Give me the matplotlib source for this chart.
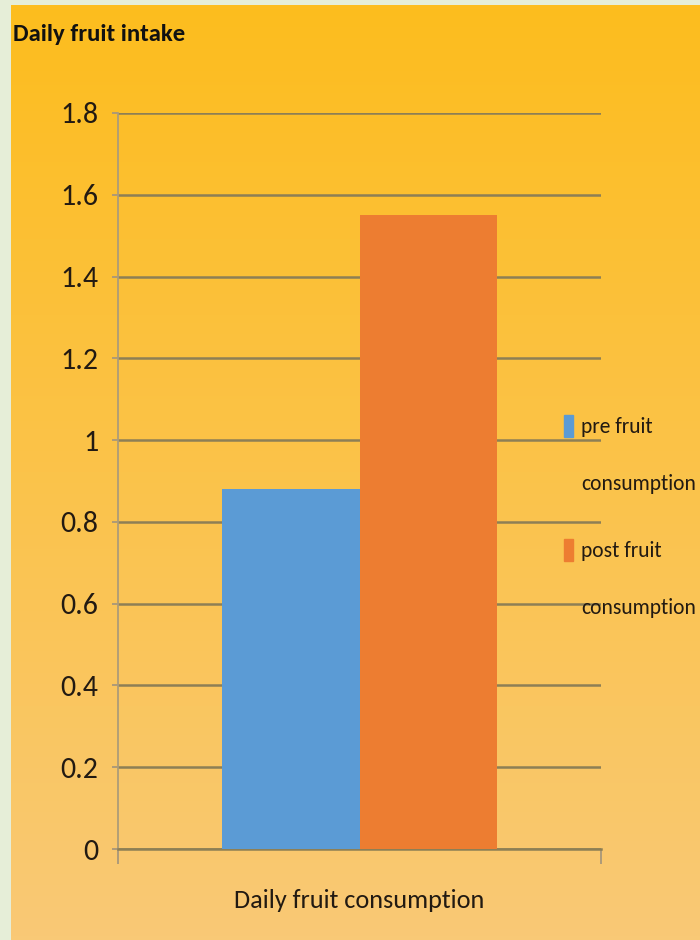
import matplotlib.pyplot as plt
from matplotlib import font_manager as fm
from matplotlib.patches import Rectangle
import numpy as np

# Data
series = ['pre fruit\nconsumption', 'post fruit\nconsumption']
values = [0.88, 1.55]
category = 'Daily fruit consumption'
title = 'Daily fruit intake'
yticks = [0, 0.2, 0.4, 0.6, 0.8, 1, 1.2, 1.4, 1.6, 1.8]
ytick_labels = ['0', '0.2', '0.4', '0.6', '0.8', '1', '1.2', '1.4', '1.6', '1.8']
colors = ['#5B9BD5', '#ED7D31']

# narrow Calibri-like font if there is one, else Lato
installed = {f.name for f in fm.fontManager.ttflist}
candidates = ['Carlito', 'PT Sans Narrow', 'Fira Sans Condensed', 'Archivo Narrow',
              'Roboto Condensed', 'Lato']
main_font = next((n for n in candidates if n in installed), 'DejaVu Sans')
plt.rcParams['font.family'] = [main_font, 'DejaVu Sans']
txt_color = '#221a12'

fig = plt.figure(figsize=(7, 9.4), dpi=100)
fig.patch.set_facecolor('#E6EED8')
renderer = fig.canvas.get_renderer()


def fit_width(t, width_px, start=20):
    # scale font size so the text is about width_px wide
    t.set_fontsize(start)
    w = t.get_window_extent(renderer).width
    t.set_fontsize(start * width_px / w)
    return t


# gradient background
bg = fig.add_axes([11 / 700, 0, 689 / 700, 1 - 5 / 940], zorder=-10)
top = np.array([253, 189, 30]) / 255
bot = np.array([249, 201, 118]) / 255
t = np.linspace(0, 1, 256)[:, None]
grad = (top * (1 - t) + bot * t)[:, None, :]
bg.imshow(grad, aspect='auto', extent=[0, 1, 0, 1])
bg.axis('off')

ax = fig.add_axes([118 / 700, 1 - 849 / 940, 483 / 700, 736 / 940])
ax.patch.set_alpha(0)

w = 0.2857
for i, v in enumerate(values):
    ax.bar((i - 0.5) * w, v, width=w, color=colors[i], zorder=3)

ax.set_xlim(-0.5, 0.5)
ax.set_ylim(0, 1.8)
ax.set_yticks(yticks)
labs = ax.set_yticklabels(ytick_labels, color=txt_color)
tick_size = fit_width(labs[-1], 38).get_fontsize()
for lb in labs:
    lb.set_fontsize(tick_size)
ax.yaxis.grid(True, color='#8d7f55', linewidth=1.8, zorder=1)
ax.set_axisbelow(True)
ax.tick_params(axis='y', length=4, width=1.3, color='#a8977a', pad=10)

ax.set_xticks([-0.5, 0.5])
ax.set_xticklabels(['', ''])
ax.set_xticks([0], minor=True)
cat = ax.set_xticklabels([category], minor=True, color=txt_color)
fit_width(cat[0], 250)
ax.tick_params(axis='x', which='major', length=11, width=1.3, color='#a8977a')
ax.tick_params(axis='x', which='minor', length=0, pad=29)

for s in ['top', 'right']:
    ax.spines[s].set_visible(False)
ax.spines['left'].set_color('#ad9c78')
ax.spines['left'].set_linewidth(1.3)
ax.spines['bottom'].set_color('#8d7f55')
ax.spines['bottom'].set_linewidth(1.8)

# legend, drawn to the right of the plot
probe = fit_width(fig.text(0, 0, 'consumption'), 115)
leg_size = probe.get_fontsize()
probe.remove()
baselines = [433, 557]
for i, lab in enumerate(series):
    b = baselines[i]
    fig.patches.append(Rectangle((564 / 700, 1 - (b + 4) / 940), 9 / 700, 22 / 940,
                                 color=colors[i], transform=fig.transFigure))
    for j, line in enumerate(lab.split('\n')):
        fig.text(581 / 700, 1 - (b + 57 * j) / 940, line, fontsize=leg_size,
                 color=txt_color, va='baseline', ha='left')

ttl = fig.text(13 / 700, 1 - 41 / 940, title, fontweight='bold',
               color='#111111', va='baseline')
fit_width(ttl, 172)

fig.savefig('out.png', dpi=100)
